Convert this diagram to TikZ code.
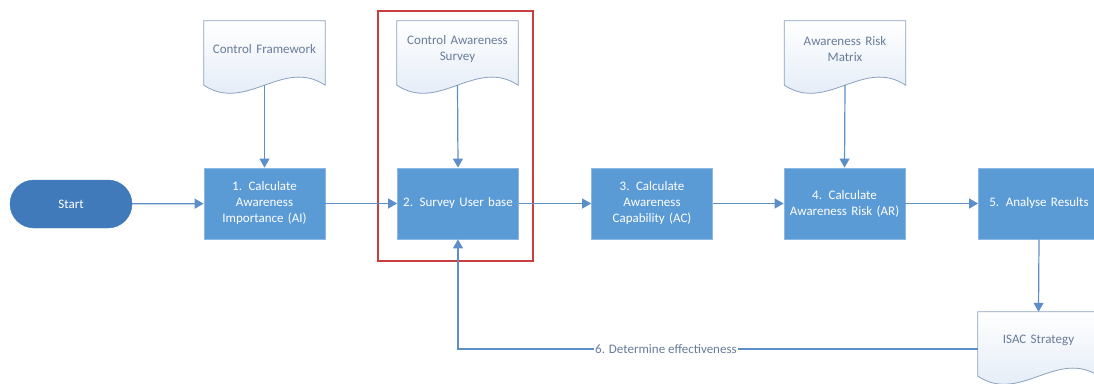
\documentclass[tikz,border=0pt]{standalone}
\usepackage{fontspec}
\setmainfont{Carlito}
\usetikzlibrary{calc,arrows.meta}

\definecolor{boxblue}{RGB}{91,155,213}
\definecolor{boxedge}{RGB}{140,183,226}
\definecolor{startblue}{RGB}{64,122,186}
\definecolor{flowline}{RGB}{92,142,200}
\definecolor{docedge}{RGB}{138,160,190}
\definecolor{docshade}{RGB}{222,232,245}
\definecolor{doctext}{RGB}{104,124,154}
\definecolor{frame}{RGB}{200,62,62}

\tikzset{
  basefont/.style={font=\fontsize{13}{16}\selectfont},
  stepbox/.style={basefont, rectangle, fill=boxblue, draw=boxedge, line width=0.8pt,
    minimum width=121pt, minimum height=71pt, text width=112pt, align=center,
    text=white, inner sep=0pt},
  startbox/.style={basefont, rectangle, rounded corners=24pt, fill=startblue,
    draw=startblue, minimum width=122pt, minimum height=48pt, text=white},
  docnode/.style={basefont, rectangle, minimum width=121pt, minimum height=56pt,
    text width=112pt, align=center, text=doctext, inner sep=0pt},
  docline/.style={draw=docedge, line width=0.8pt, top color=white, bottom color=docshade},
  flow/.style={draw=flowline, line width=1.2pt, -{Triangle[length=9pt,width=10pt]}},
  flowlabel/.style={basefont, fill=white, text=doctext, inner sep=1pt},
  redframe/.style={draw=frame, line width=1.1pt}
}

% outline of a document symbol laid behind a named node
\newcommand\docoutline[1]{%
  \path[docline] (#1.north west) -- (#1.north east) -- ($(#1.south east)+(0,8)$)
    .. controls ($(#1.south west)!0.65!(#1.south east)+(0,-20)$)
           and ($(#1.south west)!0.35!(#1.south east)+(0,36)$)
    .. ($(#1.south west)+(0,8)$) -- cycle;}

\begin{document}
\begin{tikzpicture}[x=1pt,y=-1pt]
\useasboundingbox (0,0) rectangle (1094,383);

% document shapes
\node[docnode] (d1) at (264.5,49) {};
\node[docnode] (d2) at (457.5,49) {};
\node[docnode] (d3) at (845,49) {};
\node[docnode] (d4) at (1038.5,340) {};
\docoutline{d1}
\docoutline{d2}
\docoutline{d3}
\docoutline{d4}
\node[docnode] at (d1) {Control Framework};
\node[docnode] at (d2) {Control Awareness\\Survey};
\node[docnode] at (d3) {Awareness Risk\\Matrix};
\node[docnode] at (d4) {ISAC Strategy};

% process steps
\node[startbox] (start) at (71,204) {Start};
\node[stepbox] (b1) at (264.5,203.5) {1. Calculate\\Awareness\\Importance (AI)};
\node[stepbox] (b2) at (458,203.5) {2. Survey User base};
\node[stepbox] (b3) at (652,203.5) {3. Calculate\\Awareness\\Capability (AC)};
\node[stepbox] (b4) at (844.5,203.5) {4. Calculate\\Awareness Risk (AR)};
\node[stepbox] (b5) at (1039,203.5) {5. Analyse Results};

% highlighted step
\draw[redframe] (378,11) rectangle (533,261);

% connectors
\draw[flow] (start) -- (b1);
\draw[flow] (b1) -- (b2);
\draw[flow] (b2) -- (b3);
\draw[flow] (b3) -- (b4);
\draw[flow] (b4) -- (b5);
\draw[flow] ($(d1.south)+(0,8)$) -- (b1.north);
\draw[flow] ($(d2.south)+(0,8)$) -- (b2.north);
\draw[flow] ($(d3.south)+(0,8)$) -- (b4.north);
\draw[flow] (b5.south) -- (d4.north);
\draw[flow] ($(d4.west)+(0,9)$) -| node[flowlabel, pos=0.3] {6. Determine effectiveness} (b2.south);
\end{tikzpicture}
\end{document}
